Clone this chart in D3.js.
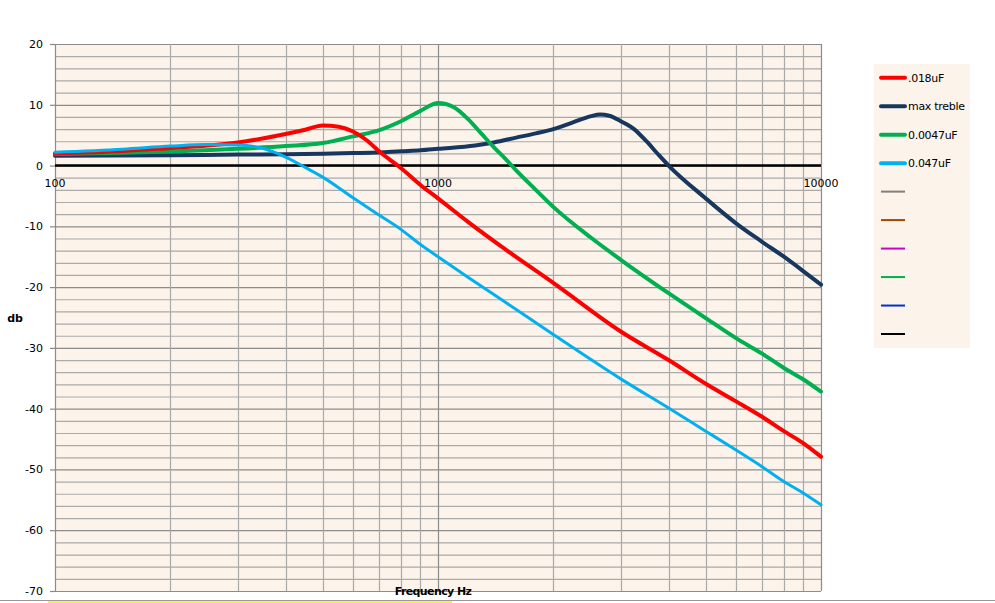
<!DOCTYPE html>
<html><head><meta charset="utf-8">
<script src="https://cdn.jsdelivr.net/npm/d3@7"></script>
<style>body{margin:0;background:#fff;} svg{display:block;}</style>
</head><body>
<svg id="c" width="995" height="603"></svg>
<script>
const freqTicks = [100, 1000, 10000];
const dbTicks = [20, 10, 0, -10, -20, -30, -40, -50, -60, -70];

const redF  = [100,150,200,250,300,400,450,500,550,600,650,700,800,900,1000,1200,1500,2000,3000,4000,5000,6000,7000,8000,9000,10000];
const redV  = [2.0,2.4,2.9,3.3,3.8,5.2,5.9,6.6,6.4,5.6,4.2,2.4,-0.4,-3.2,-5.4,-9.3,-13.8,-19.3,-27.3,-32.0,-35.9,-38.8,-41.3,-43.7,-45.7,-47.9];

const navyF = [100,200,300,400,500,600,700,800,900,1000,1250,1400,1600,1800,2000,2250,2500,2650,2800,3000,3250,3500,3750,4000,5000,6000,7000,8000,9000,10000];
const navyV = [1.6,1.7,1.8,1.85,1.95,2.05,2.15,2.35,2.5,2.75,3.3,3.8,4.6,5.3,6.0,7.1,8.1,8.4,8.2,7.3,6.0,4.0,1.9,0,-5.4,-9.5,-12.5,-15.0,-17.4,-19.6];

const greenF = [100,150,200,300,400,500,600,700,800,900,1000,1100,1200,1300,1400,1500,1600,1800,2000,2500,3000,4000,5000,6000,7000,8000,9000,10000];
const greenV = [1.9,2.1,2.3,2.75,3.2,3.7,4.8,5.8,7.3,9.0,10.3,9.6,7.6,5.2,3.0,1.1,-0.8,-4.0,-6.8,-11.8,-15.5,-21.0,-25.1,-28.4,-30.9,-33.3,-35.2,-37.2];

const cyanF = [100,150,200,250,300,350,400,450,500,600,700,800,900,1000,1200,1500,2000,3000,4000,5000,6000,7000,8000,9000,10000];
const cyanV = [2.2,2.7,3.2,3.45,3.4,2.8,1.4,-0.3,-1.9,-5.3,-8.1,-10.5,-13.0,-15.0,-18.4,-22.5,-27.8,-35.1,-39.9,-43.7,-46.8,-49.5,-52.0,-53.9,-55.8];

const legendNames = [".018uF","max treble","0.0047uF","0.047uF","","","","","",""];
const legendColors = ["#ff0000","#17375e","#00b050","#00b0f0","#808080","#984807","#cc00cc","#00b050","#0033cc","#000000"];

const svg = d3.select("#c");
const L = 55, R = 821, T = 44, B = 591;
const x = d3.scaleLog().domain([100, 10000]).range([L, R]);
const y = d3.scaleLinear().domain([-70, 20]).range([B, T]);

const defs = svg.append("defs");
const pat = defs.append("pattern").attr("id","dots").attr("width",4).attr("height",4).attr("patternUnits","userSpaceOnUse");
pat.append("rect").attr("width",4).attr("height",4).attr("fill","#fcf3ea");
pat.append("rect").attr("x",1).attr("y",1).attr("width",1).attr("height",1).attr("fill","#fdf8e4");

svg.append("rect").attr("x",L).attr("y",T).attr("width",R-L).attr("height",B-T).attr("fill","url(#dots)");

// horizontal grid every 2 dB
const hg = d3.range(-70, 21, 2);
svg.append("g").selectAll("line").data(hg).join("line")
  .attr("x1",L).attr("x2",R).attr("y1",d=>y(d)+0.5).attr("y2",d=>y(d)+0.5)
  .attr("stroke", d => d % 10 === 0 ? "#8c8c8c" : "#aaaaaa").attr("stroke-width",1.2);

// vertical grid
const vg = [];
[100,1000].forEach(b => { for (let k=1;k<=10;k++) vg.push(b*k); });
svg.append("g").selectAll("line").data(Array.from(new Set(vg))).join("line")
  .attr("x1",d=>Math.round(x(d))+0.5).attr("x2",d=>Math.round(x(d))+0.5).attr("y1",T).attr("y2",B)
  .attr("stroke", d => [100,1000,10000].includes(d) ? "#8c8c8c" : "#aaaaaa").attr("stroke-width",1.2);

// y axis ticks and labels
const ya = svg.append("g");
ya.selectAll("line").data(dbTicks).join("line")
  .attr("x1",L-5).attr("x2",L).attr("y1",d=>y(d)+0.5).attr("y2",d=>y(d)+0.5).attr("stroke","#888").attr("stroke-width",1.2);
ya.selectAll("text").data(dbTicks).join("text")
  .attr("x",43).attr("y",d=>y(d)+4).attr("text-anchor","end")
  .attr("font-family","DejaVu Sans, Verdana, sans-serif").attr("font-size",11).attr("fill","#000")
  .text(d=>d);

// zero line
svg.append("line").attr("x1",L).attr("x2",R).attr("y1",y(0)).attr("y2",y(0)).attr("stroke","#000").attr("stroke-width",2.5);

// x tick labels
svg.append("g").selectAll("text").data(freqTicks).join("text")
  .attr("x",d=>x(d)).attr("y",y(0)+21).attr("text-anchor","middle")
  .attr("font-family","DejaVu Sans, Verdana, sans-serif").attr("font-size",11).attr("fill","#000")
  .text(d=>d);

// series
const series = [
  {f: redF, v: redV, c: legendColors[0], w: 4},
  {f: navyF, v: navyV, c: legendColors[1], w: 4},
  {f: greenF, v: greenV, c: legendColors[2], w: 4},
  {f: cyanF, v: cyanV, c: legendColors[3], w: 3}
];
const line = d3.line().x(d=>x(d[0])).y(d=>y(d[1])).curve(d3.curveMonotoneX);
const drawOrder = [1,2,0,3];
drawOrder.forEach(i => {
  const s = series[i];
  svg.append("path").datum(s.f.map((f,j)=>[f, s.v[j]]))
    .attr("d", line).attr("fill","none").attr("stroke", s.c).attr("stroke-width", s.w)
    .attr("stroke-linejoin","round").attr("stroke-linecap","round");
});

// axis titles
svg.append("text").attr("x",15).attr("y",322).attr("text-anchor","middle")
  .attr("font-family","Verdana, DejaVu Sans, sans-serif").attr("font-weight","bold").attr("font-size",11).text("db");
svg.append("text").attr("x",433).attr("y",595).attr("text-anchor","middle")
  .attr("font-family","Verdana, DejaVu Sans, sans-serif").attr("font-weight","bold").attr("font-size",11)
  .attr("letter-spacing",-0.6).text("Frequency Hz");

// legend
svg.append("rect").attr("x",874).attr("y",64).attr("width",96).attr("height",284).attr("fill","url(#dots)");
const lg = svg.append("g").selectAll("g").data(legendNames).join("g")
  .attr("transform",(d,i)=>`translate(0,${77.7 + i*28.48})`);
lg.append("line").attr("x1",881).attr("x2",905).attr("y1",0).attr("y2",0)
  .attr("stroke",(d,i)=>legendColors[i]).attr("stroke-width",(d,i)=> i<4 ? 4 : 2)
  .attr("stroke-linecap",(d,i)=> i<4 ? "round" : "butt");
lg.append("text").attr("x",908).attr("y",4).attr("font-family","DejaVu Sans, Verdana, sans-serif")
  .attr("font-size",11).attr("letter-spacing",-0.3).attr("fill","#000").text(d=>d);

// bottom strip
svg.append("line").attr("x1",0).attr("x2",995).attr("y1",600.5).attr("y2",600.5).attr("stroke","#999").attr("stroke-width",1);
svg.append("rect").attr("x",48).attr("y",601).attr("width",404).attr("height",2).attr("fill","#f5f04a");
</script>
</body></html>
